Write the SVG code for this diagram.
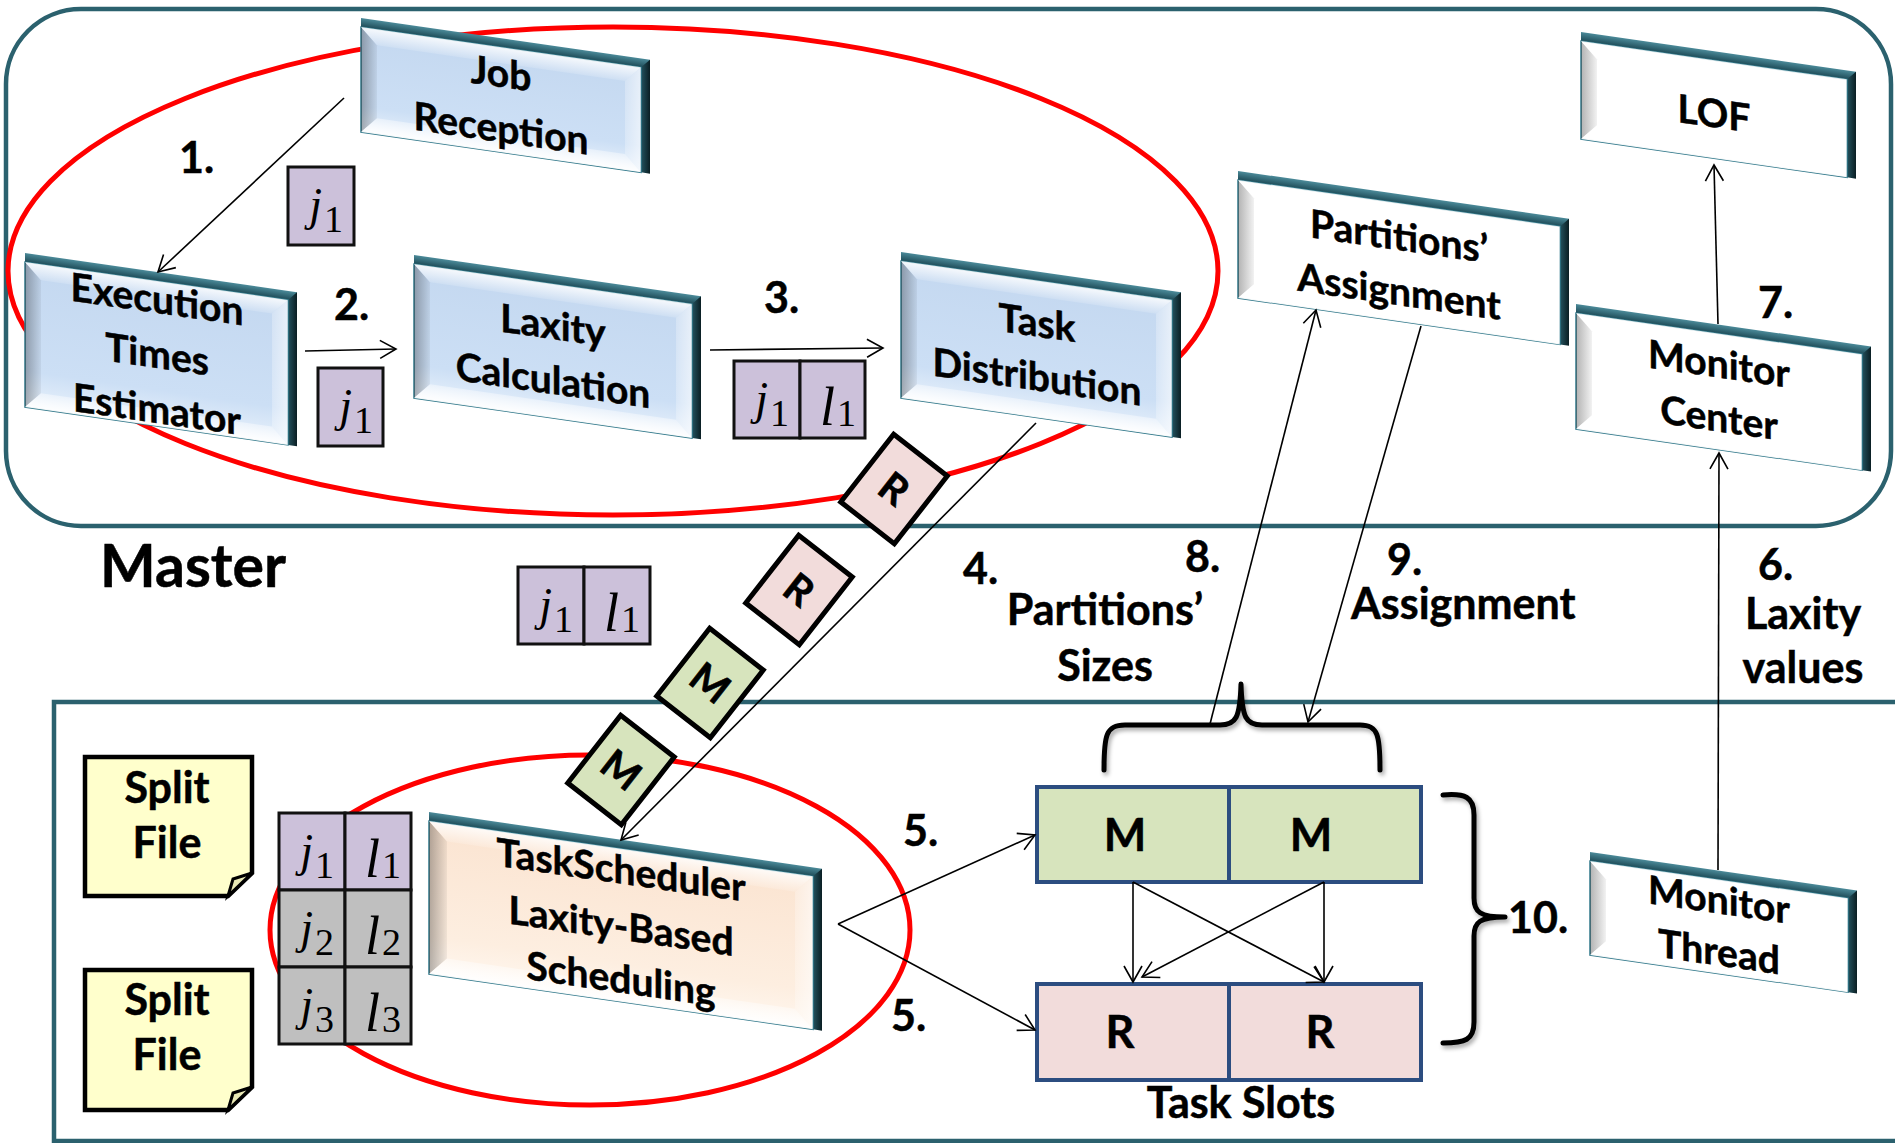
<svg xmlns="http://www.w3.org/2000/svg" width="1895" height="1143" viewBox="0 0 1895 1143">
<defs>
<style>
.lbl{font-family:Lato,"Liberation Sans",sans-serif;font-weight:700;font-size:43px;fill:#000;stroke:#000;stroke-width:0.5}
.big{font-size:59px}
.node{font-family:Lato,"Liberation Sans",sans-serif;font-weight:700;font-size:39px;fill:#000;stroke:#000;stroke-width:0.5;text-anchor:middle}
.mid{text-anchor:middle}
.frame{fill:none;stroke:#2B616E;stroke-width:4.5}
.ring{fill:none;stroke:#FF0000;stroke-width:5}
.band{fill:url(#gBand)}
.side{fill:url(#gSide)}
.face-blue{fill:url(#gBlue);stroke:#31788A;stroke-width:1.5}
.face-white{fill:#FFFFFF;stroke:#31788A;stroke-width:1.5}
.face-peach{fill:url(#gPeach);stroke:#31788A;stroke-width:1.5}
.bl{fill:url(#gBevL)}
.bt{fill:url(#gBevT)}
.br{fill:url(#gBevR)}
.bb{fill:url(#gBevB)}
.con{fill:none;stroke:#000;stroke-width:1.6;marker-end:url(#open)}
.cell-p{fill:#CCC1DA;stroke:#111;stroke-width:3}
.cell-g{fill:#BFBFBF;stroke:#111;stroke-width:3}
.mj{font-family:"Liberation Serif","DejaVu Serif",serif;font-style:italic;font-size:46px;text-anchor:end}
.ml{font-family:"Liberation Serif","DejaVu Serif",serif;font-style:italic;font-size:54px;text-anchor:end}
.ms{font-family:"Liberation Serif","DejaVu Serif",serif;font-size:38px}
.slot-m{fill:#D7E4BD;stroke:#2C4D80;stroke-width:4}
.slot-r{fill:#F2DCDB;stroke:#2C4D80;stroke-width:4}
.dia-m{fill:#D7E4BD;stroke:#000;stroke-width:5}
.dia-r{fill:#F2DCDB;stroke:#000;stroke-width:5}
.dia-t{font-family:Lato,"Liberation Sans",sans-serif;font-weight:700;font-size:40px;stroke:#000;stroke-width:0.6;text-anchor:middle}
.slot-t{font-family:Lato,"Liberation Sans",sans-serif;font-weight:700;font-size:45px;stroke:#000;stroke-width:0.5;text-anchor:middle}
.note{fill:#FFFFCC;stroke:#000;stroke-width:4.5}
.fold{fill:#E9E9B5;stroke:#000;stroke-width:3}
.brace{fill:none;stroke:#000;stroke-width:5;stroke-linecap:round;stroke-linejoin:round;filter:url(#shadow)}
</style>
<marker id="open" markerUnits="userSpaceOnUse" markerWidth="24" markerHeight="24" refX="17" refY="10" orient="auto" overflow="visible">
  <path d="M1,1 L17,10 L1,19" fill="none" stroke="#000" stroke-width="1.6"/>
</marker>
<linearGradient id="gBand" x1="0" y1="0" x2="0" y2="1">
  <stop offset="0" stop-color="#4B8A99"/><stop offset="1" stop-color="#1E4B57"/>
</linearGradient>
<linearGradient id="gSide" x1="0" y1="0" x2="1" y2="0">
  <stop offset="0" stop-color="#24535F"/><stop offset="1" stop-color="#0A1E23"/>
</linearGradient>
<linearGradient id="gBlue" x1="0" y1="0" x2="0" y2="1">
  <stop offset="0" stop-color="#C4D8F0"/><stop offset="0.75" stop-color="#CCDFF5"/><stop offset="1" stop-color="#E8F1FB"/>
</linearGradient>
<linearGradient id="gPeach" x1="0" y1="0" x2="0" y2="1">
  <stop offset="0" stop-color="#FBE4D1"/><stop offset="0.75" stop-color="#FDEEE0"/><stop offset="1" stop-color="#FFF7EF"/>
</linearGradient>
<linearGradient id="gBevL" x1="0" y1="0" x2="1" y2="0">
  <stop offset="0" stop-color="#000" stop-opacity="0.30"/><stop offset="1" stop-color="#000" stop-opacity="0.05"/>
</linearGradient>
<linearGradient id="gBevT" x1="0" y1="0" x2="0" y2="1">
  <stop offset="0" stop-color="#FFF" stop-opacity="0.85"/><stop offset="1" stop-color="#FFF" stop-opacity="0.15"/>
</linearGradient>
<linearGradient id="gBevR" x1="0" y1="0" x2="1" y2="0">
  <stop offset="0" stop-color="#FFF" stop-opacity="0.25"/><stop offset="1" stop-color="#FFF" stop-opacity="0.6"/>
</linearGradient>
<linearGradient id="gBevB" x1="0" y1="0" x2="0" y2="1">
  <stop offset="0" stop-color="#FFF" stop-opacity="0.4"/><stop offset="1" stop-color="#FFF" stop-opacity="0.95"/>
</linearGradient>
<filter id="shadow" x="-20%" y="-20%" width="140%" height="140%">
  <feDropShadow dx="2" dy="3" stdDeviation="2" flood-color="#000" flood-opacity="0.35"/>
</filter>
</defs>

<rect width="1895" height="1143" fill="#FFFFFF"/>

<!-- containers -->
<g id="containers">
  <rect id="master-frame" class="frame" x="6" y="9" width="1885" height="517" rx="75" ry="75"/>
  <rect id="worker-frame" class="frame" x="54" y="702" width="1900" height="439"/>
  <text class="lbl big" x="100" y="587">Master</text>
</g>

<!-- grouping rings -->
<g id="rings">
  <ellipse class="ring" cx="613" cy="271" rx="605" ry="244"/>
  <ellipse class="ring" cx="590" cy="930" rx="320" ry="175"/>
</g>

<!-- pipeline boxes -->
<g id="job-reception" transform="translate(361,18) skewY(8.2)">
  <rect class="band" width="289" height="9"/>
  <polygon class="side" points="280,9 289,0 289,114 280,114"/>
  <rect class="face-blue" y="9" width="280" height="105"/>
  <polygon class="bl" points="0,9 16,25 16,98 0,114"/>
  <polygon class="bt" points="0,9 280,9 264,25 16,25"/>
  <polygon class="br" points="280,9 280,114 264,98 264,25"/>
  <polygon class="bb" points="0,114 16,98 264,98 280,114"/>
  <text class="node" x="140" y="49">Job</text>
  <text class="node" x="140" y="104">Reception</text>
</g>

<g id="exec-estimator" transform="translate(25,253) skewY(8.2)">
  <rect class="band" width="272" height="9"/>
  <polygon class="side" points="263,9 272,0 272,154 263,154"/>
  <rect class="face-blue" y="9" width="263" height="145"/>
  <polygon class="bl" points="0,9 16,25 16,138 0,154"/>
  <polygon class="bt" points="0,9 263,9 247,25 16,25"/>
  <polygon class="br" points="263,9 263,154 247,138 247,25"/>
  <polygon class="bb" points="0,154 16,138 247,138 263,154"/>
  <text class="node" x="132" y="41">Execution</text>
  <text class="node" x="132" y="96">Times</text>
  <text class="node" x="132" y="151">Estimator</text>
</g>

<g id="laxity-calc" transform="translate(414,255) skewY(8.2)">
  <rect class="band" width="287" height="9"/>
  <polygon class="side" points="278,9 287,0 287,143 278,143"/>
  <rect class="face-blue" y="9" width="278" height="134"/>
  <polygon class="bl" points="0,9 16,25 16,127 0,143"/>
  <polygon class="bt" points="0,9 278,9 262,25 16,25"/>
  <polygon class="br" points="278,9 278,143 262,127 262,25"/>
  <polygon class="bb" points="0,143 16,127 262,127 278,143"/>
  <text class="node" x="139" y="64">Laxity</text>
  <text class="node" x="139" y="119">Calculation</text>
</g>

<g id="task-distribution" transform="translate(901,252) skewY(8.2)">
  <rect class="band" width="280" height="9"/>
  <polygon class="side" points="271,9 280,0 280,146 271,146"/>
  <rect class="face-blue" y="9" width="271" height="137"/>
  <polygon class="bl" points="0,9 16,25 16,130 0,146"/>
  <polygon class="bt" points="0,9 271,9 255,25 16,25"/>
  <polygon class="br" points="271,9 271,146 255,130 255,25"/>
  <polygon class="bb" points="0,146 16,130 255,130 271,146"/>
  <text class="node" x="136" y="65">Task</text>
  <text class="node" x="136" y="119">Distribution</text>
</g>

<g id="partitions-assignment" transform="translate(1238,171) skewY(8.2)">
  <rect class="band" width="331" height="9"/>
  <polygon class="side" points="322,9 331,0 331,127 322,127"/>
  <rect class="face-white" y="9" width="322" height="118"/>
  <polygon class="bl" points="0,9 16,25 16,111 0,127"/>
  <polygon class="bt" points="0,9 322,9 306,25 16,25"/>
  <polygon class="br" points="322,9 322,127 306,111 306,25"/>
  <polygon class="bb" points="0,127 16,111 306,111 322,127"/>
  <text class="node" x="161" y="56">Partitions’</text>
  <text class="node" x="161" y="111">Assignment</text>
</g>

<g id="lof" transform="translate(1581,32) skewY(8.2)">
  <rect class="band" width="275" height="9"/>
  <polygon class="side" points="266,9 275,0 275,107 266,107"/>
  <rect class="face-white" y="9" width="266" height="98"/>
  <polygon class="bl" points="0,9 16,25 16,91 0,107"/>
  <polygon class="bt" points="0,9 266,9 250,25 16,25"/>
  <polygon class="br" points="266,9 266,107 250,91 250,25"/>
  <polygon class="bb" points="0,107 16,91 250,91 266,107"/>
  <text class="node" x="133" y="76">LOF</text>
</g>

<g id="monitor-center" transform="translate(1576,304) skewY(8.2)">
  <rect class="band" width="295" height="9"/>
  <polygon class="side" points="286,9 295,0 295,125 286,125"/>
  <rect class="face-white" y="9" width="286" height="116"/>
  <polygon class="bl" points="0,9 16,25 16,109 0,125"/>
  <polygon class="bt" points="0,9 286,9 270,25 16,25"/>
  <polygon class="br" points="286,9 286,125 270,109 270,25"/>
  <polygon class="bb" points="0,125 16,109 270,109 286,125"/>
  <text class="node" x="143" y="53">Monitor</text>
  <text class="node" x="143" y="107">Center</text>
</g>

<g id="monitor-thread" transform="translate(1590,852) skewY(8.2)">
  <rect class="band" width="267" height="9"/>
  <polygon class="side" points="258,9 267,0 267,103 258,103"/>
  <rect class="face-white" y="9" width="258" height="94"/>
  <polygon class="bl" points="0,9 16,25 16,87 0,103"/>
  <polygon class="bt" points="0,9 258,9 242,25 16,25"/>
  <polygon class="br" points="258,9 258,103 242,87 242,25"/>
  <polygon class="bb" points="0,103 16,87 242,87 258,103"/>
  <text class="node" x="129" y="43">Monitor</text>
  <text class="node" x="129" y="95">Thread</text>
</g>

<g id="task-scheduler" transform="translate(429,812) skewY(8.2)">
  <rect class="band" width="393" height="9"/>
  <polygon class="side" points="384,9 393,0 393,162 384,162"/>
  <rect class="face-peach" y="9" width="384" height="153"/>
  <polygon class="bl" points="0,9 18,27 18,144 0,162"/>
  <polygon class="bt" points="0,9 384,9 366,27 18,27"/>
  <polygon class="br" points="384,9 384,162 366,144 366,27"/>
  <polygon class="bb" points="0,162 18,144 366,144 384,162"/>
  <text class="node" x="192" y="44">TaskScheduler</text>
  <text class="node" x="192" y="100">Laxity-Based</text>
  <text class="node" x="192" y="153">Scheduling</text>
</g>

<!-- job / laxity tokens -->
<g id="token-j1-a">
  <rect class="cell-p" x="288" y="167" width="66" height="78"/>
  <text class="mj" x="322" y="220">j</text><text class="ms" x="324" y="232">1</text>
</g>
<g id="token-j1-b">
  <rect class="cell-p" x="318" y="368" width="65" height="78"/>
  <text class="mj" x="352" y="421">j</text><text class="ms" x="354" y="433">1</text>
</g>
<g id="token-jl-a">
  <rect class="cell-p" x="734" y="361" width="66" height="77"/>
  <rect class="cell-p" x="800" y="361" width="65" height="77"/>
  <text class="mj" x="768" y="414">j</text><text class="ms" x="770" y="426">1</text>
  <text class="ml" x="835" y="425">l</text><text class="ms" x="837" y="426">1</text>
</g>
<g id="token-jl-b">
  <rect class="cell-p" x="518" y="567" width="66" height="77"/>
  <rect class="cell-p" x="584" y="567" width="66" height="77"/>
  <text class="mj" x="552" y="620">j</text><text class="ms" x="554" y="632">1</text>
  <text class="ml" x="619" y="631">l</text><text class="ms" x="621" y="632">1</text>
</g>
<g id="queue-table">
  <rect class="cell-p" x="279" y="813" width="66" height="77"/>
  <rect class="cell-p" x="345" y="813" width="66" height="77"/>
  <rect class="cell-g" x="279" y="890" width="66" height="77"/>
  <rect class="cell-g" x="345" y="890" width="66" height="77"/>
  <rect class="cell-g" x="279" y="967" width="66" height="77"/>
  <rect class="cell-g" x="345" y="967" width="66" height="77"/>
  <text class="mj" x="313" y="866">j</text><text class="ms" x="315" y="878">1</text>
  <text class="ml" x="380" y="877">l</text><text class="ms" x="382" y="878">1</text>
  <text class="mj" x="313" y="943">j</text><text class="ms" x="315" y="955">2</text>
  <text class="ml" x="380" y="954">l</text><text class="ms" x="382" y="955">2</text>
  <text class="mj" x="313" y="1020">j</text><text class="ms" x="315" y="1032">3</text>
  <text class="ml" x="380" y="1031">l</text><text class="ms" x="382" y="1032">3</text>
</g>

<!-- split files -->
<g id="split-file-1">
  <path class="note" d="M85,757 H252 V873 L228,896 H85 Z"/>
  <path class="fold" d="M228,896 L233,879 L252,873 Z"/>
  <text class="lbl mid" x="167" y="803">Split</text>
  <text class="lbl mid" x="167" y="858">File</text>
</g>
<g id="split-file-2">
  <path class="note" d="M85,970 H252 V1087 L228,1110 H85 Z"/>
  <path class="fold" d="M228,1110 L233,1093 L252,1087 Z"/>
  <text class="lbl mid" x="167" y="1015">Split</text>
  <text class="lbl mid" x="167" y="1070">File</text>
</g>

<!-- tasks in transit -->
<g id="task-r1" transform="translate(894,489) rotate(38)">
  <rect class="dia-r" x="-34" y="-43" width="68" height="86"/>
  <text class="dia-t" y="14">R</text>
</g>
<g id="task-r2" transform="translate(799,590) rotate(38)">
  <rect class="dia-r" x="-34" y="-43" width="68" height="86"/>
  <text class="dia-t" y="14">R</text>
</g>
<g id="task-m1" transform="translate(710,683) rotate(38)">
  <rect class="dia-m" x="-34" y="-43" width="68" height="86"/>
  <text class="dia-t" y="14">M</text>
</g>
<g id="task-m2" transform="translate(621,770) rotate(38)">
  <rect class="dia-m" x="-34" y="-43" width="68" height="86"/>
  <text class="dia-t" y="14">M</text>
</g>

<!-- task slots -->
<g id="task-slots">
  <rect class="slot-m" x="1037" y="787" width="192" height="95"/>
  <rect class="slot-m" x="1229" y="787" width="192" height="95"/>
  <rect class="slot-r" x="1037" y="984" width="192" height="96"/>
  <rect class="slot-r" x="1229" y="984" width="192" height="96"/>
  <text class="slot-t" x="1125" y="851">M</text>
  <text class="slot-t" x="1311" y="851">M</text>
  <text class="slot-t" x="1120" y="1048">R</text>
  <text class="slot-t" x="1320" y="1048">R</text>
  <text class="lbl mid" x="1241" y="1118">Task Slots</text>
</g>

<!-- braces -->
<g id="braces">
  <path class="brace" d="M1104,770 C1104,735 1106,725 1125,725 L1220,725 C1236,725 1240,718 1241,684 C1242,718 1246,725 1262,725 L1360,725 C1378,725 1380,735 1380,770"/>
  <path class="brace" d="M1443,795 C1465,793 1474,797 1474,815 L1474,898 C1474,912 1480,917 1505,917 C1480,917 1474,922 1474,936 L1474,1022 C1474,1040 1465,1043 1443,1043"/>
</g>

<!-- connectors -->
<g id="connectors">
  <path class="con" d="M344,98 L158,272"/>
  <path class="con" d="M305,351 L396,349"/>
  <path class="con" d="M710,350 L883,348"/>
  <path class="con" d="M1036,423 L621,840"/>
  <path class="con" d="M838,924 L1035,835"/>
  <path class="con" d="M838,924 L1035,1030"/>
  <path class="con" d="M1133,882 L1133,982"/>
  <path class="con" d="M1324,882 L1324,982"/>
  <path class="con" d="M1133,882 L1324,982"/>
  <path class="con" d="M1324,882 L1142,977"/>
  <path class="con" d="M1718,870 L1719,453"/>
  <path class="con" d="M1718,324 L1714,165"/>
  <path class="con" d="M1210,724 L1316,310"/>
  <path class="con" d="M1421,326 L1308,722"/>
</g>

<!-- step labels -->
<g id="step-labels">
  <text class="lbl" x="179" y="173">1.</text>
  <text class="lbl" x="334" y="320">2.</text>
  <text class="lbl" x="764" y="313">3.</text>
  <text class="lbl" x="963" y="584">4.</text>
  <text class="lbl mid" x="1105" y="625">Partitions’</text>
  <text class="lbl mid" x="1105" y="681">Sizes</text>
  <text class="lbl" x="903" y="846">5.</text>
  <text class="lbl" x="891" y="1031">5.</text>
  <text class="lbl" x="1758" y="580">6.</text>
  <text class="lbl mid" x="1803" y="629">Laxity</text>
  <text class="lbl mid" x="1803" y="683">values</text>
  <text class="lbl" x="1758" y="318">7.</text>
  <text class="lbl" x="1185" y="572">8.</text>
  <text class="lbl" x="1387" y="575">9.</text>
  <text class="lbl" x="1351" y="619">Assignment</text>
  <text class="lbl" x="1508" y="933">10.</text>
</g>
</svg>
